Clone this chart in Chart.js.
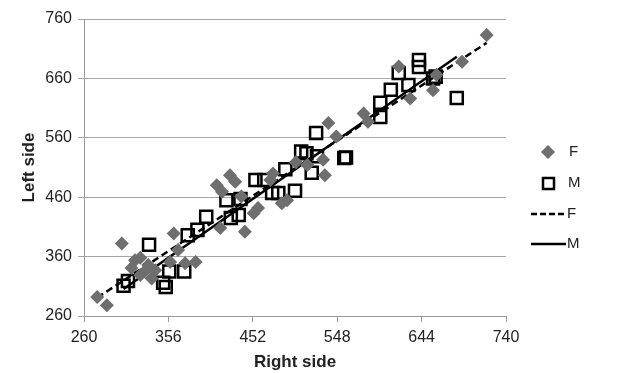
<!DOCTYPE html>
<html>
<head>
<meta charset="utf-8">
<script src="https://cdn.jsdelivr.net/npm/chart.js@4"></script>
<style>
  html, body { margin: 0; padding: 0; background: #fff; }
  #wrap { width: 620px; height: 373px; }
</style>
</head>
<body>
<div id="wrap"><canvas id="chart"></canvas></div>
<script>
const femaleX = [275, 286, 303, 314, 318, 324, 329, 337, 333, 341, 362, 375, 387, 367, 358, 324,
                 411, 417, 426, 432, 439, 415, 443, 453, 458, 472, 485, 491, 475, 501, 514, 532,
                 534, 538, 547, 578, 583, 618, 631, 657, 661, 690, 718];
const femaleY = [292, 278, 382, 341, 354, 358, 335, 323, 346, 337, 399, 349, 351, 371, 351, 329,
                 480, 469, 497, 486, 461, 408, 402, 433, 442, 489, 450, 455, 500, 519, 514, 523,
                 497, 585, 562, 601, 587, 680, 626, 640, 666, 688, 733];

const maleX = [305, 310, 334, 350, 353, 357, 374, 378, 389, 399, 422, 427, 436, 438, 455, 465,
               474, 481, 489, 500, 507, 513, 519, 524, 525, 556, 558, 597, 597, 609, 618, 629,
               641, 641, 657, 660, 684];
const maleY = [311, 319, 380, 316, 309, 335, 335, 396, 405, 427, 455, 425, 430, 457, 489, 489,
               467, 467, 507, 471, 537, 534, 501, 568, 529, 526, 527, 619, 595, 641, 669, 649,
               691, 679, 660, 663, 627];

const xTicks = [260, 356, 452, 548, 644, 740];
const yTicks = [260, 360, 460, 560, 660, 760];

function toPoints(xs, ys) {
    return xs.map((x, i) => ({ x: x, y: ys[i] }));
}

// least squares line over the series' x range (like an Excel linear trendline)
function trendLine(xs, ys) {
    const n = xs.length;
    const mx = xs.reduce((a, b) => a + b, 0) / n;
    const my = ys.reduce((a, b) => a + b, 0) / n;
    let sxy = 0, sxx = 0;
    for (let i = 0; i < n; i++) {
        sxy += (xs[i] - mx) * (ys[i] - my);
        sxx += (xs[i] - mx) * (xs[i] - mx);
    }
    const slope = sxy / sxx;
    const icpt = my - slope * mx;
    const x0 = Math.min(...xs), x1 = Math.max(...xs);
    return [{ x: x0, y: icpt + slope * x0 }, { x: x1, y: icpt + slope * x1 }];
}

const FONT = "'Liberation Sans', Arial, sans-serif";
const GREY = '#6e6e6e';

// legend drawn by hand to look like the Excel one
const legendPlugin = {
    id: 'sideLegend',
    afterDraw(chart) {
        const ctx = chart.ctx;
        ctx.save();
        ctx.font = '15px ' + FONT;
        ctx.textBaseline = 'middle';

        // F marker
        ctx.fillStyle = GREY;
        ctx.beginPath();
        ctx.moveTo(548, 145); ctx.lineTo(555, 152); ctx.lineTo(548, 159); ctx.lineTo(541, 152);
        ctx.closePath(); ctx.fill();
        // M marker
        ctx.strokeStyle = '#000';
        ctx.lineWidth = 2.5;
        ctx.strokeRect(543, 178, 11, 11);
        // F line
        ctx.setLineDash([6, 3]);
        ctx.beginPath(); ctx.moveTo(531, 214); ctx.lineTo(566, 214); ctx.stroke();
        // M line
        ctx.setLineDash([]);
        ctx.beginPath(); ctx.moveTo(531, 244); ctx.lineTo(566, 244); ctx.stroke();

        ctx.fillStyle = '#222';
        ctx.fillText('F', 569, 152);
        ctx.fillText('M', 568, 183);
        ctx.fillText('F', 567, 214);
        ctx.fillText('M', 567, 244);
        ctx.restore();
    }
};

const chart = new Chart(document.getElementById('chart'), {
    type: 'scatter',
    data: {
        datasets: [
            {
                label: 'F',
                data: toPoints(femaleX, femaleY),
                pointStyle: 'rectRot',
                pointRadius: 7,
                backgroundColor: GREY,
                borderColor: GREY,
                borderWidth: 0
            },
            {
                label: 'M',
                data: toPoints(maleX, maleY),
                pointStyle: 'rect',
                pointRadius: 8.5,
                backgroundColor: 'rgba(0,0,0,0)',
                borderColor: '#000',
                borderWidth: 2.5
            },
            {
                label: 'F trend',
                data: trendLine(femaleX, femaleY),
                showLine: true,
                borderColor: '#000',
                borderWidth: 2.5,
                borderDash: [7, 4],
                pointRadius: 0
            },
            {
                label: 'M trend',
                data: trendLine(maleX, maleY),
                showLine: true,
                borderColor: '#000',
                borderWidth: 2.5,
                pointRadius: 0
            }
        ]
    },
    options: {
        responsive: true,
        maintainAspectRatio: false,
        animation: false,
        layout: { padding: { top: 19, right: 114, left: 19, bottom: 0 } },
        plugins: {
            legend: { display: false },
            tooltip: { enabled: false }
        },
        scales: {
            x: {
                type: 'linear',
                min: 260,
                max: 740,
                afterBuildTicks: (scale) => { scale.ticks = xTicks.map(v => ({ value: v })); },
                afterFit: (scale) => { scale.height = 57; },
                ticks: { color: '#222', font: { family: FONT, size: 16 }, padding: 6 },
                grid: { drawOnChartArea: false, drawTicks: true, tickLength: 6, color: '#999' },
                border: { color: '#999' },
                title: {
                    display: true,
                    text: 'Right side',
                    color: '#222',
                    font: { family: FONT, size: 17, weight: 'bold' },
                    padding: { top: 0, bottom: 0 }
                }
            },
            y: {
                type: 'linear',
                min: 260,
                max: 760,
                afterBuildTicks: (scale) => { scale.ticks = yTicks.map(v => ({ value: v })); },
                afterFit: (scale) => { scale.width = 65; },
                ticks: { color: '#222', font: { family: FONT, size: 16 }, padding: 6 },
                grid: { color: '#a6a6a6', tickLength: 6 },
                border: { color: '#999' },
                title: {
                    display: true,
                    text: 'Left side',
                    color: '#222',
                    font: { family: FONT, size: 17, weight: 'bold' },
                    padding: { top: 0, bottom: 0 }
                }
            }
        }
    },
    plugins: [legendPlugin]
});
</script>
</body>
</html>
